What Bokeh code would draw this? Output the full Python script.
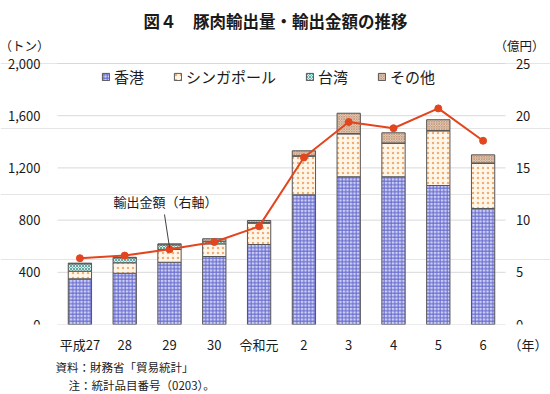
from bokeh.plotting import figure
from bokeh.models import (Range1d, FixedTicker, Label, Legend, LegendItem, Arrow,
                          ColumnDataSource, Title)
from bokeh.core.properties import value
from bokeh.embed import file_html
from bokeh.resources import INLINE
from bokeh.transform import stack

years = ["平成27", "28", "29", "30", "令和元", "2", "3", "4", "5", "6"]
hongkong = [350, 393, 477, 521, 613, 994, 1132, 1132, 1065, 889]
singapore = [58, 80, 98, 97, 163, 296, 329, 257, 419, 347]
taiwan = [57, 38, 36, 20, 6, 3, 2, 2, 2, 2]
others = [5, 4, 7, 19, 15, 38, 156, 78, 83, 62]
value_oku = [6.35, 6.6, 7.2, 7.9, 9.4, 16.0, 19.4, 18.8, 20.7, 17.6]

left_ticks = [0, 400, 800, 1200, 1600, 2000]
right_ticks = [0, 5, 10, 15, 20, 25]
year_unit = "（年）"

series_names = ["香港", "シンガポール", "台湾", "その他"]
series_keys = ["hk", "sg", "tw", "ot"]
fills = ["#cdd0f4", "#fff6ea", "#d5efed", "#f1e0d0"]
hatch_colors = ["#6468cc", "#f2ad72", "#63aaa5", "#c49a7c"]
hatch_patterns = ["cross", "dot", "diagonal_cross", "diagonal_cross"]
hatch_scales = [3.5, 5, 3, 2.5]

FONT = "Noto Sans CJK JP"
TXT = "#1a1a1a"
RED = "#e2461f"

n = len(years)
xs = list(range(n))
src = ColumnDataSource(dict(x=xs, hk=hongkong, sg=singapore, tw=taiwan, ot=others, v=value_oku))

# layout: canvas 550x394, plot area x 57..505, y 63..324 (frame spans x 0..550, y 0..324)
W, H = 550, 394
slot = (505 - 57) / n
x_start = -(57 + slot / 2) / slot
x_end = x_start + W / slot
frame_h = 324
y_end_left = left_ticks[-1] * frame_h / (324 - 63)
y_end_right = right_ticks[-1] * frame_h / (324 - 63)

p = figure(width=W, height=H, x_range=Range1d(x_start, x_end), y_range=Range1d(0, y_end_left),
           output_backend="svg", toolbar_location=None, title=None, y_axis_location=None,
           min_border_left=0, min_border_right=0, min_border_top=0, min_border_bottom=H - frame_h)
p.extra_y_ranges = {"yen": Range1d(0, y_end_right)}
p.outline_line_color = None
p.background_fill_color = "white"
p.border_fill_color = "white"
p.xgrid.grid_line_color = None

# x axis (with the unit label in the extra slot)
xa = p.xaxis[0]
xa.ticker = FixedTicker(ticks=list(range(n + 1)))
xa.major_label_overrides = {i: lab for i, lab in enumerate(years + [year_unit])}
xa.axis_line_color = None
xa.major_tick_line_color = None
xa.minor_tick_line_color = None
xa.major_tick_out = 0
xa.major_tick_in = 0
xa.major_label_text_font = FONT
xa.major_label_text_font_size = "13px"
xa.major_label_text_color = TXT
xa.major_label_standoff = 10

# horizontal grid lines over the plot area
p.segment(x0=[-0.5] * len(left_ticks), x1=[n - 0.5] * len(left_ticks), y0=left_ticks, y1=left_ticks,
          line_color="#d9d9d9", line_width=1)

# y tick labels
p.text(x=[-0.5] * len(left_ticks), y=left_ticks, text=[f"{t:,}" for t in left_ticks],
       x_offset=-17, text_align="right", text_baseline="middle", text_font=value(FONT),
       text_font_size="13px", text_color=TXT)
p.text(x=[n] * len(right_ticks), y=right_ticks, text=[str(t) for t in right_ticks], y_range_name="yen",
       x_offset=-12, text_align="left", text_baseline="middle", text_font=value(FONT),
       text_font_size="13px", text_color=TXT)

# stacked bars
renderers = []
for i, key in enumerate(series_keys):
    r = p.vbar(x="x", bottom=stack(*series_keys[:i]), top=stack(*series_keys[:i + 1]), width=0.52,
               source=src, fill_color=fills[i], line_color="#555555", line_width=1,
               hatch_pattern=hatch_patterns[i], hatch_color=hatch_colors[i],
               hatch_scale=hatch_scales[i], hatch_weight=1)
    renderers.append(r)

# value line
p.line(x="x", y="v", source=src, y_range_name="yen", line_color=RED, line_width=2)
p.scatter(x="x", y="v", source=src, y_range_name="yen", size=7, fill_color=RED, line_color=RED)

legend = Legend(items=[LegendItem(label=nm, renderers=[r]) for nm, r in zip(series_names, renderers)],
                orientation="horizontal", location=(101, 237), glyph_width=9, glyph_height=9,
                label_standoff=4, spacing=29, padding=0, margin=0,
                label_text_font=FONT, label_text_font_size="15px", label_text_color=TXT,
                background_fill_alpha=0, border_line_color=None)
p.add_layout(legend, "center")

def lab(text, x, y, size, align="left", style="normal"):
    p.add_layout(Label(text=text, x=x, y=y, x_units="screen", y_units="screen", text_font=FONT,
                       text_font_size=size, text_align=align, text_baseline="middle",
                       text_color=TXT, text_font_style=style))

lab("図４　豚肉輸出量・輸出金額の推移", 275, 304, "16.5px", "center", "bold")
lab("（トン）", -1, 279, "12.5px")
lab("（億円）", 494, 279, "12.5px")
lab("輸出金額（右軸）", 113, 123, "13px")

p.add_layout(Arrow(end=None, x_start=164, y_start=110, x_end=169, y_end=77,
                   start_units="screen", end_units="screen", line_color="#404040", line_width=1))

# notes below the axis
p.add_layout(Title(text="資料：財務省「貿易統計」", align="left", offset=55, standoff=0,
                   text_font=FONT, text_font_size="11.5px", text_font_style="normal", text_color=TXT), "below")
p.add_layout(Title(text="注：統計品目番号（0203）。", align="left", offset=68, standoff=0,
                   text_font=FONT, text_font_size="11.5px", text_font_style="normal", text_color=TXT), "below")

open("out.html", "w").write(file_html(p, INLINE))
